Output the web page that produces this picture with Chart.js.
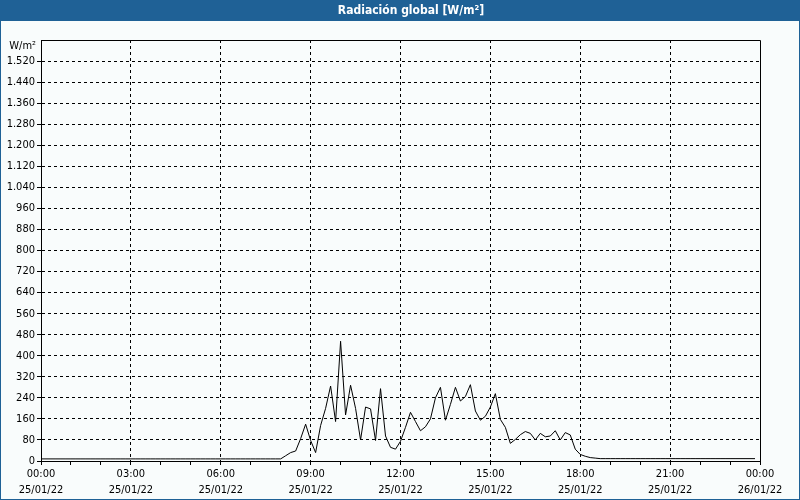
<!DOCTYPE html>
<html>
<head>
<meta charset="utf-8">
<script src="https://cdn.jsdelivr.net/npm/chart.js@4"></script>
<style>
  html, body { margin: 0; padding: 0; background: #fff; }
  #radiacionChart { display: block; }
</style>
</head>
<body>
<canvas id="radiacionChart" width="800" height="500"></canvas>
<script>
    // Radiación global cada 10 minutos, 25/01/22 00:00 - 23:50
    var radiacion = [
        8, 8, 8, 8, 8, 8, 8, 8, 8, 8, 8, 8,   // 00:00 - 01:50
        8, 8, 8, 8, 8, 8, 8, 8, 8, 8, 8, 8,   // 02:00 - 03:50
        8, 8, 8, 8, 8, 8, 8, 8, 8, 8, 8, 8,   // 04:00 - 05:50
        8, 8, 8, 8, 8, 8, 8, 8, 8, 8, 8, 8,   // 06:00 - 07:50
        8, 20, 32, 38, 85, 140, 78, 32, 135, 200, 285, 150,      // 08:00 - 09:50
        455, 175, 288, 200, 80, 205, 198, 78, 275, 95, 52, 45,   // 10:00 - 11:50
        75, 128, 185, 150, 115, 130, 160, 240, 280, 155, 215, 280, // 12:00 - 13:50
        228, 245, 290, 190, 155, 170, 205, 256, 158, 128, 67, 82, // 14:00 - 15:50
        100, 112, 105, 80, 105, 92, 95, 115, 80, 108, 99, 45,    // 16:00 - 17:50
        25, 18, 13, 11, 9, 9, 9, 9, 9, 9, 9, 9,  // 18:00 - 19:50
        9, 9, 9, 9, 9, 9, 9, 9, 9, 9, 9, 9,      // 20:00 - 21:50
        9, 9, 9, 9, 9, 9, 9, 9, 9, 9, 9, 9       // 22:00 - 23:50
    ];
    var horasEje = ['00:00', '03:00', '06:00', '09:00', '12:00', '15:00', '18:00', '21:00', '00:00'];
    var fechasEje = ['25/01/22', '25/01/22', '25/01/22', '25/01/22', '25/01/22', '25/01/22', '25/01/22', '25/01/22', '26/01/22'];
    var titulo = 'Radiación global [W/m²]';
    var unidad = 'W/m²';

    // categorias de 10 minutos (00:00 ... 24:00)
    var horas = [];
    for (var h = 0; h <= 24; h++) {
        for (var m = 0; m < 60; m += 10) {
            if (h === 24 && m > 0) break;
            horas.push(String(h % 24).padStart(2, '0') + ':' + String(m).padStart(2, '0'));
        }
    }

    var azul = '#1f6196';

    var marco = {
        id: 'marco',
        beforeDraw: function (chart) {
            var c = chart.ctx;
            c.save();
            c.fillStyle = '#f9fcfc';
            c.fillRect(0, 0, 800, 500);
            c.fillStyle = azul;
            c.fillRect(0, 0, 800, 21);
            c.strokeStyle = azul;
            c.lineWidth = 1;
            c.strokeRect(0.5, 0.5, 799, 499);
            c.fillStyle = '#ffffff';
            c.font = 'bold 12px "DejaVu Sans Condensed", "DejaVu Sans", sans-serif';
            c.textAlign = 'center';
            c.textBaseline = 'middle';
            c.fillText(titulo, 411, 11);
            c.restore();
        },
        afterDraw: function (chart) {
            var a = chart.chartArea;
            var c = chart.ctx;
            c.save();
            c.strokeStyle = '#000';
            c.lineWidth = 1;
            c.beginPath();
            c.moveTo(Math.round(a.left) + 0.5, Math.round(a.top) + 0.5);
            c.lineTo(Math.round(a.right) + 0.5, Math.round(a.top) + 0.5);
            c.lineTo(Math.round(a.right) + 0.5, Math.round(a.bottom) + 0.5);
            c.stroke();
            c.fillStyle = '#000';
            c.font = '11px "DejaVu Sans Condensed", "DejaVu Sans", sans-serif';
            c.textAlign = 'right';
            c.textBaseline = 'middle';
            c.fillText(unidad, 36, 46);
            c.restore();
        }
    };

    Chart.defaults.font.family = '"DejaVu Sans Condensed", "DejaVu Sans", sans-serif';
    Chart.defaults.font.size = 11;
    Chart.defaults.color = '#000';

    var ctx = document.getElementById('radiacionChart').getContext('2d');
    var myChart = new Chart(ctx, {
        type: 'line',
        data: {
            labels: horas,
            datasets: [{
                data: radiacion,
                borderColor: '#000',
                borderWidth: 1,
                pointRadius: 0,
                tension: 0,
                fill: false
            }]
        },
        options: {
            responsive: false,
            animation: false,
            devicePixelRatio: 1,
            layout: { padding: { left: 0, right: 40, top: 40, bottom: 0 } },
            plugins: {
                legend: { display: false },
                title: { display: false },
                tooltip: { enabled: false }
            },
            scales: {
                x: {
                    type: 'category',
                    offset: false,
                    grid: {
                        color: function (c) { return (c.index % 18 === 0 && c.index > 0 && c.index < 144) ? '#000' : 'rgba(0,0,0,0)'; },
                        tickColor: function (c) { return c.index % 6 === 0 ? '#000' : 'rgba(0,0,0,0)'; },
                        tickLength: 4,
                        tickBorderDash: []
                    },
                    border: { display: true, color: '#000', width: 1, dash: [3, 3] },
                    ticks: {
                        autoSkip: false,
                        maxRotation: 0,
                        padding: 1,
                        font: { lineHeight: '16px' },
                        callback: function (v, i) {
                            if (i % 18 !== 0) return '';
                            return [horasEje[i / 18], fechasEje[i / 18]];
                        }
                    },
                    afterFit: function (s) { s.height = 39; }
                },
                y: {
                    min: 0,
                    max: 1600,
                    grid: {
                        color: function (c) { return (c.tick && c.tick.value > 0 && c.tick.value < 1600) ? '#000' : 'rgba(0,0,0,0)'; },
                        tickColor: function (c) { return (c.tick && c.tick.value < 1600) ? '#000' : 'rgba(0,0,0,0)'; },
                        tickLength: 4,
                        tickBorderDash: []
                    },
                    border: { display: true, color: '#000', width: 1, dash: [3, 3] },
                    ticks: {
                        stepSize: 80,
                        padding: 2,
                        callback: function (v) {
                            if (v >= 1600) return '';
                            return v.toLocaleString('de-DE');
                        }
                    },
                    afterFit: function (s) { s.width = 41; }
                }
            }
        },
        plugins: [marco]
    });
</script>
</body>
</html>
